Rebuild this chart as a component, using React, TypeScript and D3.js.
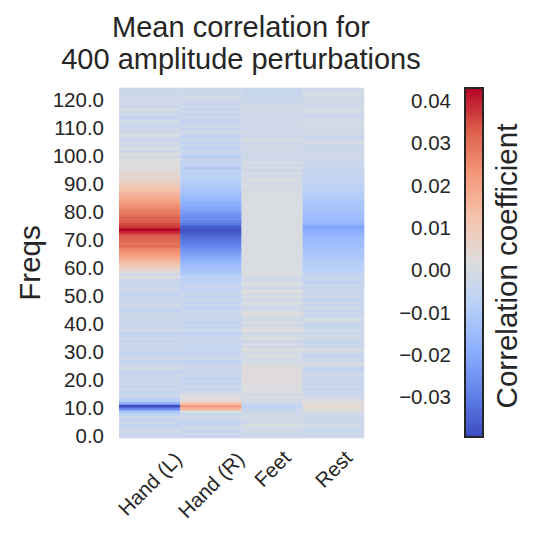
import React, { useEffect, useRef } from 'react';
import * as d3 from 'd3';

// frequency bins, 1 Hz wide (0..124 Hz)
const freqs = d3.range(0, 125);
const classes = ['Hand (L)', 'Hand (R)', 'Feet', 'Rest'];

// mean correlation per frequency bin
const handL = [
  -0.003, -0.005, -0.002, -0.004, -0.006, -0.003, -0.005, -0.002, -0.007, -0.012,
  -0.028, -0.0395, -0.018, -0.009, -0.005, -0.003, -0.006, -0.002, -0.004, -0.003,
  -0.005, -0.002, -0.004, -0.006, -0.003, -0.001, -0.004, -0.005, -0.002, -0.004,
  -0.006, -0.003, -0.004, -0.002, -0.005, -0.003, -0.004, -0.006, -0.002, -0.004,
  -0.003, -0.005, -0.002, -0.004, -0.003, -0.006, -0.004, -0.002, -0.005, -0.003,
  -0.004, -0.006, -0.003, -0.002, -0.005, -0.004, -0.003, 0.001, -0.002, 0.003,
  0.007, 0.01, 0.013, 0.016, 0.019, 0.022, 0.024, 0.026, 0.03, 0.029,
  0.031, 0.032, 0.034, 0.039, 0.043, 0.037, 0.035, 0.033, 0.032, 0.03,
  0.028, 0.027, 0.025, 0.023, 0.021, 0.019, 0.017, 0.015, 0.013, 0.011,
  0.009, 0.007, 0.006, 0.005, 0.004, 0.003, 0.002, 0.003, 0.001, 0.002,
  -0.001, 0.001, -0.002, 0.0, -0.003, -0.001, -0.004, -0.002, 0.0, -0.003,
  -0.002, -0.004, -0.001, -0.003, -0.005, -0.002, -0.003, 0.0, -0.004, -0.002,
  -0.003, -0.001, -0.004, -0.002, -0.003,
];
const handR = [
  -0.004, -0.003, -0.005, -0.002, -0.004, -0.006, -0.003, -0.002, -0.004, 0.001,
  0.016, 0.022, 0.012, 0.003, 0.002, 0.001, -0.002, -0.004, -0.003, -0.005,
  -0.004, -0.006, -0.003, -0.005, -0.004, -0.002, -0.005, -0.006, -0.003, -0.004,
  -0.005, -0.003, -0.006, -0.004, -0.005, -0.003, -0.004, -0.006, -0.003, -0.005,
  -0.004, -0.006, -0.003, -0.005, -0.004, -0.003, -0.006, -0.004, -0.005, -0.003,
  -0.006, -0.004, -0.005, -0.007, -0.004, -0.006, -0.008, -0.007, -0.01, -0.012,
  -0.013, -0.014, -0.016, -0.018, -0.02, -0.022, -0.024, -0.026, -0.028, -0.03,
  -0.031, -0.033, -0.035, -0.037, -0.038, -0.036, -0.031, -0.029, -0.027, -0.026,
  -0.024, -0.022, -0.021, -0.019, -0.018, -0.016, -0.015, -0.013, -0.012, -0.011,
  -0.01, -0.009, -0.008, -0.007, -0.008, -0.006, -0.01, -0.005, -0.006, -0.004,
  -0.009, -0.005, -0.003, -0.006, -0.004, -0.005, -0.003, -0.006, -0.004, -0.002,
  -0.005, -0.003, -0.004, -0.006, -0.002, -0.004, -0.003, -0.005, -0.002, -0.004,
  -0.003, -0.001, -0.004, -0.002, -0.003,
];
const feet = [
  -0.002, -0.004, -0.001, -0.003, 0.001, -0.002, -0.003, -0.001, -0.002, -0.003,
  -0.004, -0.006, -0.003, -0.001, 0.0, -0.002, 0.001, 0.002, 0.0, 0.001,
  0.003, 0.002, 0.003, 0.001, 0.003, 0.002, -0.001, 0.0, -0.002, 0.001,
  -0.001, 0.002, -0.002, 0.0, -0.003, 0.001, -0.001, -0.002, 0.002, 0.0,
  -0.003, 0.001, -0.002, 0.0, 0.002, -0.001, -0.003, 0.0, 0.001, -0.002,
  0.0, -0.001, 0.002, -0.002, 0.0, 0.001, -0.003, -0.001, 0.001, 0.0,
  0.0, 0.001, 0.0, 0.0, 0.001, 0.0, 0.001, 0.0, 0.0, 0.001,
  0.0, 0.001, 0.001, 0.0, 0.001, 0.0, 0.001, 0.0, 0.001, 0.0,
  0.0, 0.001, 0.0, 0.001, 0.0, 0.0, 0.001, 0.0, -0.001, 0.0,
  0.0, -0.001, 0.001, -0.002, 0.0, -0.003, -0.001, -0.002, 0.0, -0.003,
  -0.002, -0.003, -0.001, -0.003, -0.002, -0.003, 0.0, -0.002, -0.003, -0.001,
  -0.003, -0.002, -0.003, -0.001, -0.003, -0.002, -0.003, -0.002, -0.001, -0.002,
  -0.004, -0.003, -0.005, -0.004, -0.004,
];
const rest = [
  -0.003, -0.002, -0.004, -0.003, -0.001, -0.004, -0.002, -0.003, -0.002, 0.0,
  0.003, 0.004, 0.003, 0.001, -0.002, -0.004, -0.003, -0.005, -0.002, -0.004,
  -0.003, -0.005, -0.002, -0.004, -0.006, -0.003, 0.001, -0.004, -0.002, -0.005,
  -0.003, 0.001, -0.004, -0.002, -0.005, -0.003, -0.001, -0.004, -0.002, -0.003,
  -0.005, -0.002, 0.0, -0.004, -0.003, -0.005, -0.002, -0.004, -0.003, -0.006,
  -0.003, -0.005, -0.002, -0.004, -0.003, -0.006, -0.005, -0.004, -0.006, -0.007,
  -0.008, -0.009, -0.009, -0.01, -0.011, -0.012, -0.012, -0.013, -0.014, -0.015,
  -0.015, -0.016, -0.017, -0.019, -0.02, -0.022, -0.017, -0.016, -0.015, -0.014,
  -0.014, -0.013, -0.012, -0.012, -0.011, -0.01, -0.01, -0.009, -0.008, -0.008,
  -0.007, -0.006, -0.006, -0.005, -0.005, -0.004, -0.004, -0.003, -0.004, -0.002,
  -0.003, -0.001, -0.004, -0.002, -0.003, 0.0, -0.002, -0.004, -0.001, -0.003,
  -0.002, 0.0, -0.003, -0.001, -0.002, -0.004, -0.001, 0.0, -0.002, -0.003,
  -0.001, -0.002, 0.0, -0.001, -0.002,
];
const series = [handL, handR, feet, rest];

const freqTicks = [0, 10, 20, 30, 40, 50, 60, 70, 80, 90, 100, 110, 120];
const cbarTicks = [-0.03, -0.02, -0.01, 0.0, 0.01, 0.02, 0.03, 0.04];
const vmin = -0.0395;
const vmax = 0.043;

// matplotlib "coolwarm"
const coolwarmStops = [
  '#3b4cc0', '#6282ea', '#8db0fe', '#b8d0f9', '#dddddd',
  '#f5c4ad', '#f49a7b', '#de604d', '#b40426',
];

const font = "'Liberation Sans', Arial, sans-serif";
const ink = '#262626';
const tickSize = 20.5;
const labelSize = 29.5;

const App = () => {
  const ref = useRef<SVGSVGElement | null>(null);

  useEffect(() => {
    if (!ref.current) return;
    const svg = d3.select(ref.current);
    svg.selectAll('*').remove();

    const color = d3
      .scaleLinear<string>()
      .domain(coolwarmStops.map((_, i) => vmin + ((vmax - vmin) * i) / (coolwarmStops.length - 1)))
      .range(coolwarmStops)
      .interpolate(d3.interpolateRgb)
      .clamp(true);

    const x = d3.scaleBand().domain(classes).range([119, 364]);
    const y = d3.scaleBand<number>().domain(freqs).range([438, 88]);

    svg.append('rect').attr('width', 536).attr('height', 536).attr('fill', '#fff');

    // heatmap cells
    const cells = classes.flatMap((c, ci) =>
      freqs.map((f, fi) => ({ c, f, v: series[ci][fi] ?? 0 })),
    );
    svg
      .append('g')
      .selectAll('rect')
      .data(cells)
      .join('rect')
      .attr('x', (d) => x(d.c)!)
      .attr('y', (d) => y(d.f)! - 0.3)
      .attr('width', x.bandwidth() + 0.3)
      .attr('height', y.bandwidth() + 0.6)
      .attr('fill', (d) => color(d.v));

    // y tick labels
    svg
      .append('g')
      .selectAll('text')
      .data(freqTicks)
      .join('text')
      .attr('x', 104)
      .attr('y', (d) => y(d)! + y.bandwidth() / 2 - 1)
      .attr('text-anchor', 'end')
      .attr('dominant-baseline', 'central')
      .attr('font-family', font)
      .attr('font-size', tickSize)
      .attr('fill', ink)
      .text((d) => d3.format('.1f')(d));

    // x tick labels, rotated 45, bbox centred under column
    const xl = svg
      .append('g')
      .selectAll('text')
      .data(classes)
      .join('text')
      .attr('text-anchor', 'middle')
      .attr('dominant-baseline', 'central')
      .attr('font-family', font)
      .attr('font-size', tickSize)
      .attr('fill', ink)
      .text((d) => d);
    xl.each(function (d) {
      const w = (this as SVGTextElement).getComputedTextLength();
      const h = d.includes('(') ? 18 : 14;
      const cx = x(d)! + x.bandwidth() / 2;
      const cy = 449 + ((w + h) * Math.SQRT1_2) / 2;
      d3.select(this).attr('transform', `translate(${cx},${cy}) rotate(-45)`);
    });

    // axis label
    svg
      .append('text')
      .attr('transform', 'translate(29,263) rotate(-90)')
      .attr('text-anchor', 'middle')
      .attr('dominant-baseline', 'central')
      .attr('font-family', font)
      .attr('font-size', labelSize)
      .attr('fill', ink)
      .text('Freqs');

    // title
    const title = svg
      .append('text')
      .attr('text-anchor', 'middle')
      .attr('font-family', font)
      .attr('font-size', 29)
      .attr('fill', ink);
    title.append('tspan').attr('x', 241).attr('y', 37).text('Mean correlation for');
    title.append('tspan').attr('x', 241).attr('y', 69).text('400 amplitude perturbations');

    // colorbar
    const cy = d3.scaleLinear().domain([vmin, vmax]).range([437, 88]);
    const grad = svg
      .append('defs')
      .append('linearGradient')
      .attr('id', 'cbar')
      .attr('x1', 0)
      .attr('y1', 1)
      .attr('x2', 0)
      .attr('y2', 0);
    grad
      .selectAll('stop')
      .data(d3.range(0, 41).map((i) => vmin + ((vmax - vmin) * i) / 40))
      .join('stop')
      .attr('offset', (d) => (d - vmin) / (vmax - vmin))
      .attr('stop-color', (d) => color(d));
    svg
      .append('rect')
      .attr('x', 465)
      .attr('y', cy(vmax))
      .attr('width', 18)
      .attr('height', cy(vmin) - cy(vmax))
      .attr('fill', 'url(#cbar)')
      .attr('stroke', ink)
      .attr('stroke-width', 2);
    svg
      .append('g')
      .selectAll('text')
      .data(cbarTicks)
      .join('text')
      .attr('x', 451)
      .attr('y', (d) => cy(d))
      .attr('text-anchor', 'end')
      .attr('dominant-baseline', 'central')
      .attr('font-family', font)
      .attr('font-size', tickSize)
      .attr('fill', ink)
      .text((d) => d3.format('.2f')(d));
    svg
      .append('text')
      .attr('transform', 'translate(506,266) rotate(-90)')
      .attr('text-anchor', 'middle')
      .attr('dominant-baseline', 'central')
      .attr('font-family', font)
      .attr('font-size', labelSize)
      .attr('fill', ink)
      .text('Correlation coefficient');
  }, []);

  return (
    <svg
      ref={ref}
      width={536}
      height={536}
      style={{ position: 'absolute', left: 0, top: 0 }}
    />
  );
};

export default App;
